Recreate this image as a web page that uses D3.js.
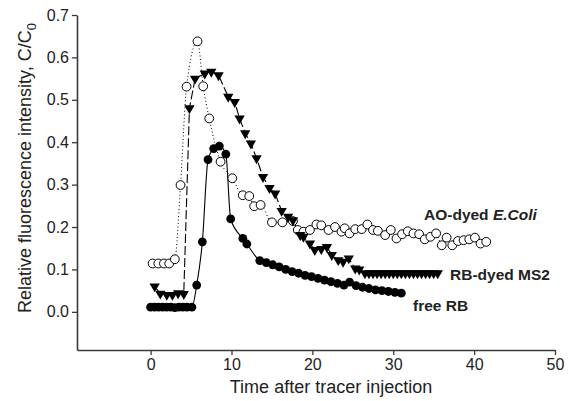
<!DOCTYPE html>
<html><head><meta charset="utf-8">
<script src="https://cdn.jsdelivr.net/npm/d3@7"></script>
<style>
html,body{margin:0;padding:0;background:#fff;}
svg{display:block;font-family:Arial,"Liberation Sans",sans-serif;}
</style></head>
<body>
<svg id="chart" width="575" height="401"></svg>
<script>
// ---- data ----
const freeRB_x = [0,0.5,1,1.5,2,2.5,3,3.5,4,4.5,5.1,5.7,6.4,7.1,7.8,8.5,9.3,9.9,11.4,11.9,13.5,14.3,15.1,15.9,16.7,17.5,18.3,19.1,19.9,20.7,21.5,22.3,23.1,23.9,24.6,25.4,26.2,27.0,27.8,28.6,29.4,30.2,31.0];
const freeRB_y = [0.011,0.011,0.011,0.011,0.011,0.011,0.010,0.011,0.011,0.011,0.011,0.063,0.165,0.359,0.385,0.391,0.372,0.219,0.173,0.160,0.121,0.116,0.111,0.106,0.100,0.095,0.091,0.086,0.083,0.079,0.075,0.071,0.067,0.063,0.070,0.062,0.058,0.055,0.052,0.050,0.048,0.046,0.044];

const ms2_x = [0.5,1.2,2.0,2.7,3.4,4.1,4.8,5.5,6.7,7.5,8.4,9.6,10.4,11.0,11.7,12.4,13.1,13.9,14.7,15.4,16.2,17.0,17.6,18.5,18.9,19.7,20.3,21.1,21.8,22.4,23.2,23.8,24.5,25.3,25.8,26.5,27.0,27.5,28.0,28.5,29.0,29.5,30.0,30.5,31.0,31.5,32.0,32.5,33.0,33.5,34.0,34.5,35.0,35.5];
const ms2_y = [0.060,0.043,0.040,0.040,0.044,0.042,0.480,0.550,0.562,0.566,0.558,0.507,0.495,0.456,0.421,0.397,0.362,0.318,0.292,0.279,0.238,0.224,0.216,0.181,0.177,0.161,0.146,0.148,0.153,0.134,0.122,0.118,0.126,0.102,0.100,0.091,0.091,0.091,0.091,0.091,0.091,0.091,0.091,0.091,0.091,0.091,0.091,0.091,0.091,0.091,0.091,0.091,0.091,0.091];

const ao_x = [0.25,0.95,1.65,2.3,3.0,3.7,4.45,5.8,6.5,7.25,8.65,10.1,11.4,12.2,12.8,13.6,15.0,16.3,17.6,18.2,18.9,19.7,20.5,21.1,22.0,22.8,23.6,24.0,24.6,25.3,26.1,26.8,27.5,28.1,29.0,29.7,30.4,31.1,31.8,32.5,33.2,33.9,34.6,35.3,36.0,36.6,37.3,38.0,38.7,39.4,40.1,40.8,41.5];
const ao_y = [0.114,0.114,0.114,0.114,0.124,0.299,0.531,0.638,0.532,0.456,0.354,0.315,0.275,0.273,0.249,0.252,0.211,0.211,0.214,0.193,0.189,0.193,0.206,0.204,0.193,0.200,0.189,0.197,0.185,0.195,0.195,0.206,0.193,0.191,0.181,0.193,0.173,0.183,0.190,0.185,0.183,0.171,0.177,0.185,0.157,0.175,0.157,0.167,0.169,0.171,0.175,0.161,0.165];

const xTicks = [0,10,20,30,40,50];
const yTicks = [0.0,0.1,0.2,0.3,0.4,0.5,0.6,0.7];
const seriesLabels = ["AO-dyed ", "E.Coli", "RB-dyed MS2", "free RB"];
const xTitle = "Time after tracer injection";
const yTitle = "Relative fluorescence intensity, C/C";

// ---- layout ----
const svg = d3.select("#chart");
const x = d3.scaleLinear().domain([-9.1, 50]).range([77, 555]);
const y = d3.scaleLinear().domain([-0.09, 0.7]).range([350, 15]);
const axisColor = "#3a3a3a";

const xAxis = svg.append("g").attr("transform","translate(0,350)")
  .call(d3.axisBottom(x).tickValues(xTicks).tickSize(5).tickPadding(4).tickSizeOuter(0).tickFormat(d3.format("d")));
const yAxis = svg.append("g").attr("transform","translate(77,0)")
  .call(d3.axisLeft(y).tickValues(yTicks).tickSize(5).tickPadding(3).tickSizeOuter(0).tickFormat(d3.format(".1f")));
[xAxis,yAxis].forEach(g=>{
  g.select(".domain").attr("stroke",axisColor).attr("stroke-width",1.6);
  g.selectAll(".tick line").attr("stroke",axisColor).attr("stroke-width",1.3);
  g.selectAll(".tick text").attr("fill","#222").style("font-size","16px").style("font-family","Arial, 'Liberation Sans', sans-serif");
});

// axis titles
svg.append("text").attr("x",331).attr("y",393).attr("text-anchor","middle")
  .style("font-size","18px").attr("fill","#222").text(xTitle);
const yt = svg.append("text").attr("transform","translate(31,168) rotate(-90)")
  .attr("text-anchor","middle").style("font-size","18px").attr("fill","#222");
yt.append("tspan").text(yTitle);
yt.append("tspan").attr("dy",5).style("font-size","13px").text("0");

// ---- series ----
const mk = (xs, ys) => xs.map((v,i)=>({x:v, y:ys[i]}));
const rb = mk(freeRB_x, freeRB_y), ms2 = mk(ms2_x, ms2_y), ao = mk(ao_x, ao_y);
const line = d3.line().x(d=>x(d.x)).y(d=>y(d.y)).curve(d3.curveMonotoneX);

svg.append("path").datum(ao).attr("d",line).attr("fill","none")
  .attr("stroke","#000").attr("stroke-width",1).attr("stroke-dasharray","1,2.5");
svg.append("path").datum(ms2).attr("d",d3.line().x(d=>x(d.x)).y(d=>y(d.y))).attr("fill","none")
  .attr("stroke","#000").attr("stroke-width",1.1).attr("stroke-dasharray","9,3");
svg.append("path").datum(rb).attr("d",line).attr("fill","none")
  .attr("stroke","#000").attr("stroke-width",1.1);

// open circles
svg.append("g").selectAll("circle").data(ao).join("circle")
  .attr("cx",d=>x(d.x)).attr("cy",d=>y(d.y)).attr("r",4.4)
  .attr("fill","#fff").attr("stroke","#000").attr("stroke-width",1);
// filled circles
svg.append("g").selectAll("circle").data(rb).join("circle")
  .attr("cx",d=>x(d.x)).attr("cy",d=>y(d.y)).attr("r",4.4).attr("fill","#000");
// down triangles
const tri = d3.symbol().type(d3.symbolTriangle).size(46);
svg.append("g").selectAll("path").data(ms2).join("path")
  .attr("d",tri).attr("transform",d=>`translate(${x(d.x)},${y(d.y)}) rotate(180)`).attr("fill","#000");

// series labels
const lab = svg.append("g").style("font-size","15.5px").style("font-weight","bold").attr("fill","#222");
const t1 = lab.append("text").attr("x",424).attr("y",220);
t1.append("tspan").text(seriesLabels[0]);
t1.append("tspan").style("font-style","italic").text(seriesLabels[1]);
lab.append("text").attr("x",450).attr("y",280).text(seriesLabels[2]);
lab.append("text").attr("x",413).attr("y",311).text(seriesLabels[3]);
</script>
</body></html>
